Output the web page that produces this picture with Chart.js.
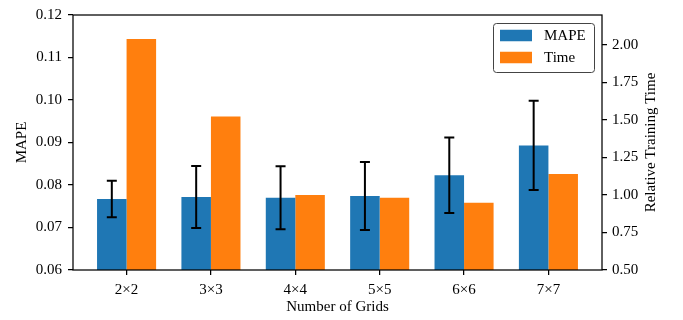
<!DOCTYPE html>
<html>
<head>
<meta charset="utf-8">
<script src="https://cdn.jsdelivr.net/npm/chart.js@4.4.0/dist/chart.umd.min.js"></script>
<style>
  html, body { margin: 0; padding: 0; background: #fff; }
  #wrap { width: 683px; height: 320px; position: relative; }
</style>
</head>
<body>
<div id="wrap"><canvas id="gridChart"></canvas></div>
<script>
const categories = ['2×2', '3×3', '4×4', '5×5', '6×6', '7×7'];
const mape = [0.0767, 0.0772, 0.0770, 0.0774, 0.0823, 0.0893];
const mapeErr = [0.0043, 0.0073, 0.0074, 0.0080, 0.0089, 0.0105];
const relTime = [2.038, 1.522, 1.000, 0.981, 0.947, 1.139];
const mapeTicks = [0.06, 0.07, 0.08, 0.09, 0.10, 0.11, 0.12];
const timeTicks = [0.50, 0.75, 1.00, 1.25, 1.50, 1.75, 2.00];

const serif = { family: '"Liberation Serif", "Times New Roman", serif', size: 15 };
const tickGrid = { display: true, offset: false, drawOnChartArea: false, drawTicks: true, tickLength: 5, color: '#000', lineWidth: 1.25 };

// error bars on the MAPE bars
const errorBars = {
    id: 'errorBars',
    afterDatasetsDraw(chart) {
        const ctx = chart.ctx;
        const y = chart.scales.y;
        const meta = chart.getDatasetMeta(0);
        ctx.save();
        ctx.strokeStyle = '#000';
        ctx.lineWidth = 2;
        meta.data.forEach((bar, i) => {
            const top = y.getPixelForValue(mape[i] + mapeErr[i]);
            const bot = y.getPixelForValue(mape[i] - mapeErr[i]);
            ctx.beginPath();
            ctx.moveTo(bar.x, top); ctx.lineTo(bar.x, bot);
            ctx.moveTo(bar.x - 5, top); ctx.lineTo(bar.x + 5, top);
            ctx.moveTo(bar.x - 5, bot); ctx.lineTo(bar.x + 5, bot);
            ctx.stroke();
        });
        ctx.restore();
    }
};

// axes frame, right axis title, boxed legend
const extras = {
    id: 'extras',
    afterDraw(chart) {
        const ctx = chart.ctx;
        const ca = chart.chartArea;
        ctx.save();
        ctx.strokeStyle = '#000';
        ctx.lineWidth = 1.25;
        ctx.strokeRect(ca.left, ca.top, ca.right - ca.left, ca.bottom - ca.top);

        ctx.fillStyle = '#000';
        ctx.font = '15px ' + serif.family;
        ctx.translate(ca.right + 53, (ca.top + ca.bottom) / 2);
        ctx.rotate(-Math.PI / 2);
        ctx.textAlign = 'center';
        ctx.textBaseline = 'alphabetic';
        ctx.fillText('Relative Training Time', 0, 0);
        ctx.restore();

        // legend
        const boxW = 101, boxH = 49;
        const x0 = ca.right - 8 - boxW, y0 = ca.top + 8;
        ctx.save();
        ctx.fillStyle = 'rgba(255,255,255,0.9)';
        ctx.strokeStyle = '#444';
        ctx.lineWidth = 1;
        ctx.beginPath();
        ctx.roundRect(x0 + 0.5, y0 + 0.5, boxW, boxH, 3);
        ctx.fill();
        ctx.stroke();
        ctx.font = '15px ' + serif.family;
        ctx.textBaseline = 'middle';
        chart.data.datasets.forEach((ds, i) => {
            const cy = y0 + 12.5 + i * 22;
            ctx.fillStyle = ds.backgroundColor;
            ctx.fillRect(x0 + 7, cy - 5.75, 32, 11.5);
            ctx.fillStyle = '#000';
            ctx.fillText(ds.label, x0 + 51, cy + 1);
        });
        ctx.restore();
    }
};

new Chart(document.getElementById('gridChart'), {
    type: 'bar',
    data: {
        datasets: [{
            label: 'MAPE',
            data: mape.map((v, i) => ({ x: i, y: v })),
            backgroundColor: '#1f77b4',
            yAxisID: 'y',
            stack: 'mape'
        }, {
            label: 'Time',
            data: relTime.map((v, i) => ({ x: i, y: v })),
            backgroundColor: '#ff7f0e',
            yAxisID: 'y1',
            stack: 'time'
        }]
    },
    options: {
        responsive: true,
        maintainAspectRatio: false,
        animation: false,
        categoryPercentage: 0.7,
        barPercentage: 1.0,
        layout: { padding: { top: 12, left: 0, right: 0, bottom: 0 } },
        plugins: { legend: { display: false }, tooltip: { enabled: false } },
        scales: {
            x: {
                type: 'linear',
                min: -0.635,
                max: 5.635,
                offset: false,
                afterBuildTicks: s => { s.ticks = categories.map((c, i) => ({ value: i })); },
                afterFit: s => { s.height = 50; },
                grid: tickGrid,
                border: { display: false },
                ticks: { callback: (v, i) => categories[i], color: '#000', font: serif, padding: 6, maxRotation: 0, autoSkip: false },
                title: { display: true, text: 'Number of Grids', color: '#000', font: serif, padding: { top: 0, bottom: 4 } }
            },
            y: {
                position: 'left',
                min: 0.06,
                max: 0.12,
                afterBuildTicks: s => { s.ticks = mapeTicks.map(v => ({ value: v })); },
                afterFit: s => { s.width = 73; },
                grid: tickGrid,
                border: { display: false },
                ticks: { callback: v => v.toFixed(2), color: '#000', font: serif, padding: 6 },
                title: { display: true, text: 'MAPE', color: '#000', font: serif, padding: { top: 13, bottom: 0 } }
            },
            y1: {
                position: 'right',
                min: 0.5,
                max: 2.198,
                afterBuildTicks: s => { s.ticks = timeTicks.map(v => ({ value: v })); },
                afterFit: s => { s.width = 81; },
                grid: tickGrid,
                border: { display: false },
                ticks: { callback: v => v.toFixed(2), color: '#000', font: serif, padding: 5 }
            }
        }
    },
    plugins: [errorBars, extras]
});
</script>
</body>
</html>
